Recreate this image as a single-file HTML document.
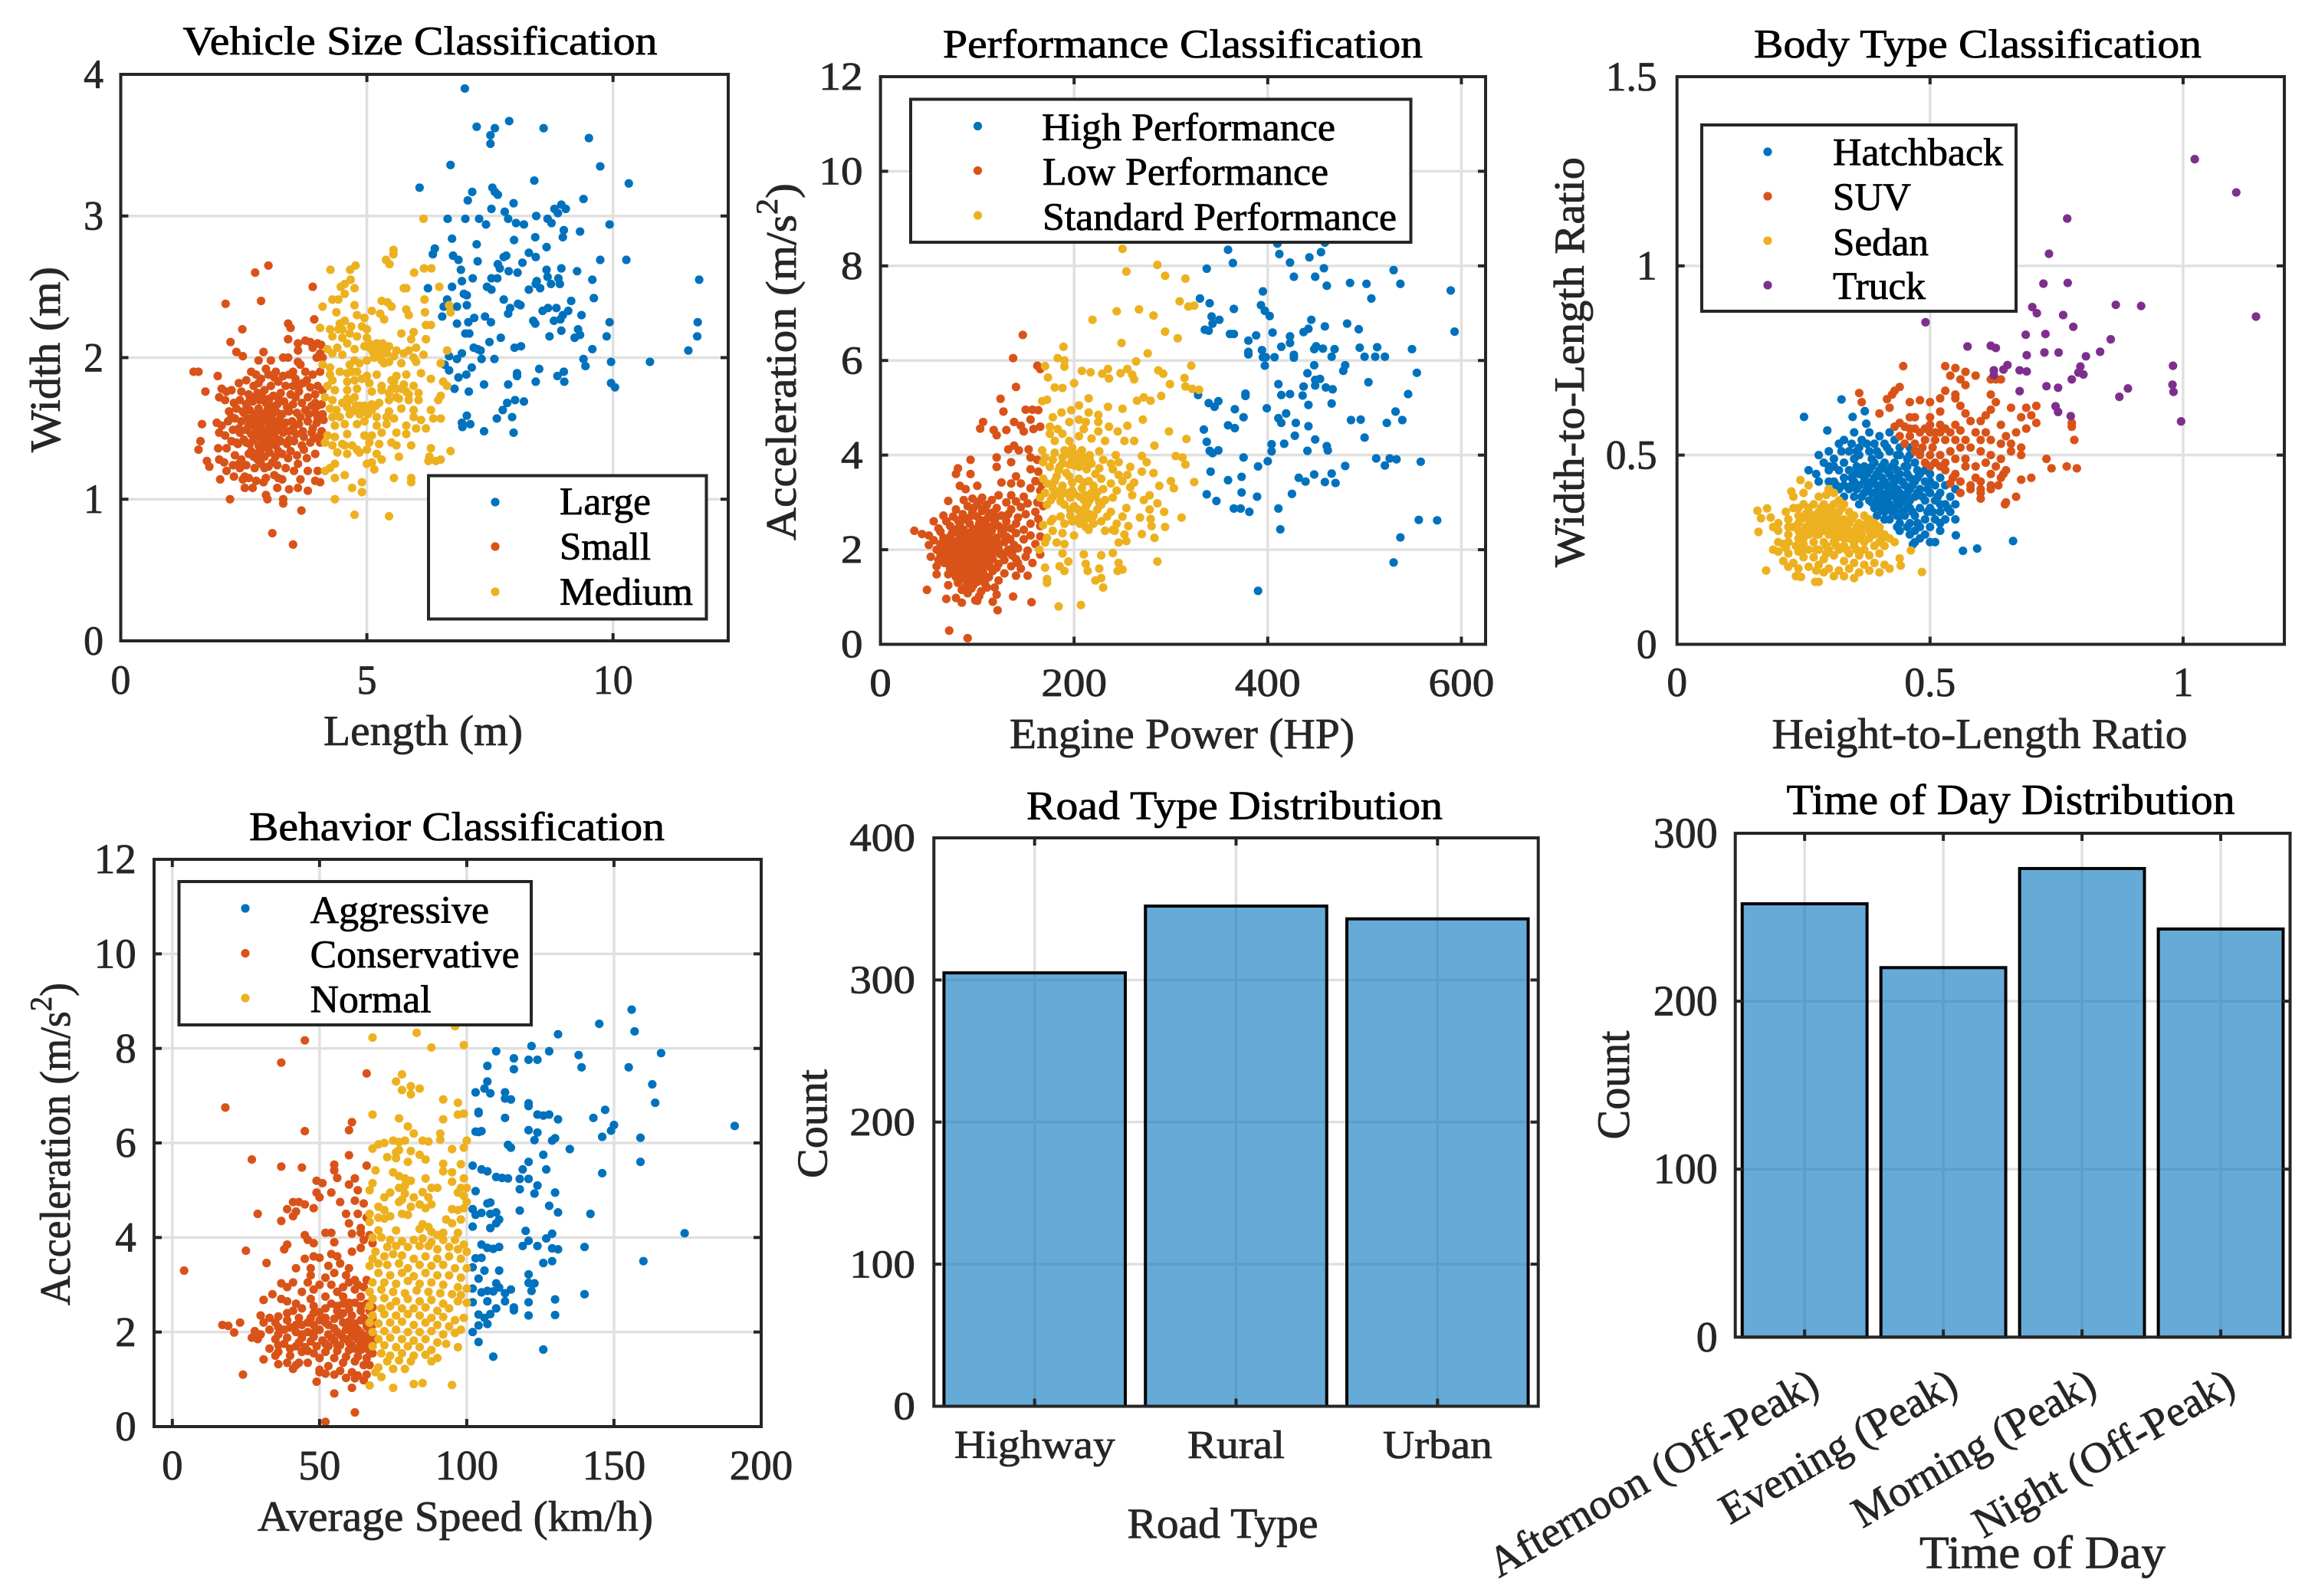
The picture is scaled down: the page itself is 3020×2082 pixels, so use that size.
<!DOCTYPE html>
<html lang="en">
<head>
<meta charset="utf-8">
<title>Vehicle classification charts</title>
<style>
html,body{margin:0;padding:0;background:#fff;}
svg{display:block;font-family:"Liberation Serif","Times New Roman",serif;}
text{stroke:#262626;stroke-width:.8px;}
.t{font-size:53px;fill:#000;stroke:#000;text-anchor:middle;}
.l{font-size:56px;fill:#262626;text-anchor:middle;}
.g{font-size:51px;fill:#000;stroke:#000;}
.b{fill:#fff;stroke:#262626;stroke-width:4;}
</style>
</head>
<body>
<svg id="chart" xmlns="http://www.w3.org/2000/svg" width="3020" height="2082" viewBox="0 0 3020 2082">
<rect width="3020" height="2082" fill="#fff"/>
<g id="plot1"></g>
<g id="plot2"></g>
<g id="plot3"></g>
<g id="plot4"></g>
<g id="plot5"></g>
<g id="plot6"></g>

<text class="t" x="548" y="71" textLength="619" lengthAdjust="spacingAndGlyphs">Vehicle Size Classification</text>
<text class="l" x="552" y="972" textLength="260" lengthAdjust="spacingAndGlyphs">Length (m)</text>
<text class="l" transform="translate(78,469) rotate(-90)" textLength="242" lengthAdjust="spacingAndGlyphs">Width (m)</text>
<g>
<rect class="b" x="559" y="620.5" width="362.5" height="187"/>
<circle cx="646" cy="655" r="5.6" fill="#0072BD"/><circle cx="646" cy="713" r="5.6" fill="#D95319"/><circle cx="646" cy="772" r="5.6" fill="#EDB120"/>
<text class="g" x="730" y="671" textLength="119" lengthAdjust="spacingAndGlyphs">Large</text>
<text class="g" x="730" y="730" textLength="119" lengthAdjust="spacingAndGlyphs">Small</text>
<text class="g" x="730" y="789" textLength="174" lengthAdjust="spacingAndGlyphs">Medium</text>
</g>

<text class="t" x="1543" y="75" textLength="626" lengthAdjust="spacingAndGlyphs">Performance Classification</text>
<text class="l" x="1542" y="976" textLength="450" lengthAdjust="spacingAndGlyphs">Engine Power (HP)</text>
<text class="l" transform="translate(1038,472) rotate(-90)" textLength="466" lengthAdjust="spacingAndGlyphs">Acceleration (m/s<tspan dy="-24" font-size="40">2</tspan><tspan dy="24">)</tspan></text>
<g>
<rect class="b" x="1188" y="129.5" width="652.5" height="186.5"/>
<circle cx="1275.5" cy="164.5" r="5.6" fill="#0072BD"/><circle cx="1275.5" cy="222.6" r="5.6" fill="#D95319"/><circle cx="1275.5" cy="281" r="5.6" fill="#EDB120"/>
<text class="g" x="1359" y="183" textLength="383" lengthAdjust="spacingAndGlyphs">High Performance</text>
<text class="g" x="1360" y="241" textLength="373" lengthAdjust="spacingAndGlyphs">Low Performance</text>
<text class="g" x="1360" y="300" textLength="462" lengthAdjust="spacingAndGlyphs">Standard Performance</text>
</g>

<text class="t" x="2580" y="75" textLength="584" lengthAdjust="spacingAndGlyphs">Body Type Classification</text>
<text class="l" x="2582.5" y="976" textLength="542" lengthAdjust="spacingAndGlyphs">Height-to-Length Ratio</text>
<text class="l" transform="translate(2066,472.5) rotate(-90)" textLength="535" lengthAdjust="spacingAndGlyphs">Width-to-Length Ratio</text>
<g>
<rect class="b" x="2220" y="163" width="410" height="243"/>
<circle cx="2306" cy="198" r="5.6" fill="#0072BD"/><circle cx="2306" cy="256" r="5.6" fill="#D95319"/><circle cx="2306" cy="314" r="5.6" fill="#EDB120"/><circle cx="2306" cy="372" r="5.6" fill="#7E2F8E"/>
<text class="g" x="2391" y="215.5" textLength="222" lengthAdjust="spacingAndGlyphs">Hatchback</text>
<text class="g" x="2391" y="274" textLength="102" lengthAdjust="spacingAndGlyphs">SUV</text>
<text class="g" x="2391" y="333" textLength="125" lengthAdjust="spacingAndGlyphs">Sedan</text>
<text class="g" x="2391" y="390" textLength="121" lengthAdjust="spacingAndGlyphs">Truck</text>
</g>

<text class="t" x="596" y="1096" textLength="542" lengthAdjust="spacingAndGlyphs">Behavior Classification</text>
<text class="l" x="594" y="1997" textLength="516" lengthAdjust="spacingAndGlyphs">Average Speed (km/h)</text>
<text class="l" transform="translate(91,1492.5) rotate(-90)" textLength="421" lengthAdjust="spacingAndGlyphs">Acceleration (m/s<tspan dy="-24" font-size="40">2</tspan><tspan dy="24">)</tspan></text>
<g>
<rect class="b" x="233.5" y="1150" width="459.5" height="187"/>
<circle cx="320" cy="1185" r="5.6" fill="#0072BD"/><circle cx="320" cy="1243.6" r="5.6" fill="#D95319"/><circle cx="320" cy="1302" r="5.6" fill="#EDB120"/>
<text class="g" x="404.6" y="1204" textLength="233.5" lengthAdjust="spacingAndGlyphs">Aggressive</text>
<text class="g" x="404.6" y="1262" textLength="273" lengthAdjust="spacingAndGlyphs">Conservative</text>
<text class="g" x="404.6" y="1320.5" textLength="158" lengthAdjust="spacingAndGlyphs">Normal</text>
</g>

<text class="t" x="1610.5" y="1068.7" textLength="543" lengthAdjust="spacingAndGlyphs">Road Type Distribution</text>
<text class="l" x="1595" y="2006" textLength="249" lengthAdjust="spacingAndGlyphs">Road Type</text>
<text class="l" transform="translate(1078.5,1466) rotate(-90)" textLength="142" lengthAdjust="spacingAndGlyphs">Count</text>

<text class="t" x="2623" y="1062" textLength="585" lengthAdjust="spacingAndGlyphs" style="font-size:56px">Time of Day Distribution</text>
<text class="l" x="2664.5" y="2045.7" textLength="321" lengthAdjust="spacingAndGlyphs" style="font-size:60px">Time of Day</text>
<text class="l" transform="translate(2125,1415.5) rotate(-90)" textLength="142" lengthAdjust="spacingAndGlyphs" style="font-size:60px">Count</text>
</svg>

<script>
/* ---------- Vehicle Size Classification: [length, width] ---------- */
const sizeLarge=[[6.99,3.9],[7.23,3.63],[7.6,3.62],[7.51,3.57],[7.51,3.51],[7.89,3.67],[8.59,3.62],[9.51,3.55],[6.7,3.36],[9.74,3.35],[6.07,3.2],[7.14,3.17],[7.55,3.2],[7.6,3.17],[7.66,3.15],[7.05,3.11],[8.4,3.25],[10.32,3.23],[9.4,3.12],[7.98,3.09],[7.53,3.05],[7.8,3.03],[8.95,3.08],[8.81,3.05],[9.04,3.05],[8.88,3.02],[6.64,2.98],[7,2.98],[7.28,2.98],[7.87,2.98],[8.03,2.95],[8.44,3],[8.67,2.98],[8.75,2.95],[7.42,2.94],[8.19,2.94],[9.93,2.94],[9,2.9],[9.33,2.89],[6.73,2.84],[7.99,2.83],[8.42,2.85],[8.98,2.85],[7.23,2.8],[8.65,2.78],[6.38,2.77],[6.34,2.73],[7.25,2.68],[6.75,2.72],[6.86,2.69],[7.78,2.71],[7.83,2.72],[8.29,2.74],[8.43,2.71],[8.16,2.67],[7.66,2.66],[9.74,2.69],[10.27,2.69],[6.91,2.62],[7.7,2.63],[7.88,2.61],[8.06,2.6],[8.65,2.62],[8.95,2.63],[9.27,2.61],[11.75,2.55],[7.15,2.56],[7.53,2.56],[7.65,2.56],[9.58,2.55],[8.89,2.56],[8.45,2.54],[8.67,2.57],[6.93,2.54],[6.73,2.5],[6.24,2.49],[7.44,2.5],[7.53,2.48],[8.29,2.48],[8.52,2.49],[8.74,2.52],[8.92,2.52],[8.43,2.52],[6.97,2.45],[7.03,2.44],[7.78,2.41],[9.61,2.42],[9.15,2.4],[6.63,2.41],[8.07,2.38],[8.12,2.37],[6.56,2.36],[6.83,2.36],[7.03,2.37],[7.91,2.35],[8.57,2.33],[8.68,2.35],[8.85,2.35],[9.09,2.33],[7.87,2.31],[8.98,2.3],[9.36,2.3],[8.93,2.27],[6.53,2.29],[6.83,2.24],[7.06,2.25],[7.18,2.28],[7.4,2.29],[7.52,2.25],[8.38,2.26],[8.42,2.24],[8.8,2.26],[9.93,2.25],[11.72,2.25],[9.29,2.2],[8.95,2.19],[9.33,2.16],[7,2.17],[7.08,2.17],[8.71,2.15],[7.72,2.14],[9.22,2.14],[9.87,2.15],[11.71,2.15],[7.49,2.11],[8.13,2.08],[8,2.07],[7.17,2.07],[7.25,2.06],[7.31,2.05],[9.58,2.06],[11.53,2.05],[6.93,2.03],[6.67,2.01],[6.83,1.99],[7.33,1.99],[7.59,1.99],[9.4,1.99],[9.96,1.97],[10.75,1.97],[6.58,1.95],[7.13,1.93],[8.5,1.92],[9.44,1.94],[6.67,1.91],[9,1.9],[8.05,1.89],[8.87,1.87],[7.02,1.88],[8.05,1.87],[6.86,1.86],[9.01,1.83],[8.43,1.83],[9.96,1.82],[10.04,1.79],[7.38,1.81],[7.87,1.81],[6.78,1.78],[7.07,1.76],[8.01,1.7],[8.19,1.69],[7.85,1.68],[7.76,1.63],[7.03,1.59],[7.64,1.57],[7.95,1.58],[6.93,1.54],[7.1,1.53],[6.94,1.51],[7.38,1.48],[7.98,1.47]];
const sizeSmall=[[3,2.65],[2.73,2.6],[3.9,2.5],[2.85,2.4],[2.13,2.38],[3.93,2.27],[3.4,2.24],[3.45,2.21],[2.47,2.2],[2.23,2.11],[3.4,2.13],[3.6,2.1],[3.75,2.12],[3.85,2.11],[4,2.1],[4.07,2.09],[3.6,2.05],[3.9,2.07],[4.05,2.03],[3.98,2],[4.1,2],[2.35,2.04],[2.48,2.01],[2.9,2.04],[2.8,1.98],[3.05,1.98],[3.3,2],[3.4,2],[3.6,1.97],[3.65,1.95],[1.48,1.9],[1.58,1.9],[1.97,1.87],[2.65,1.9],[2.75,1.88],[2.95,1.92],[3,1.88],[3.15,1.9],[3.3,1.87],[3.42,1.88],[3.5,1.9],[3.75,1.9],[3.9,1.88],[4.05,1.9],[2.4,1.82],[2.55,1.84],[2.7,1.8],[2.85,1.85],[3.05,1.8],[3.2,1.83],[3.35,1.8],[3.55,1.85],[3.7,1.82],[3.85,1.79],[4,1.8],[4.1,1.77],[1.72,1.76],[2.05,1.78],[2.15,1.76],[2.25,1.77],[2.45,1.76],[2.6,1.74],[2.78,1.75],[2.92,1.77],[3.1,1.73],[3.25,1.75],[3.45,1.74],[3.62,1.76],[3.8,1.72],[3.95,1.74],[2,1.72],[2.12,1.7],[2.3,1.68],[2.42,1.7],[2.55,1.67],[2.68,1.69],[2.82,1.7],[2.95,1.68],[3.02,1.71],[3.18,1.67],[3.32,1.69],[3.5,1.67],[3.68,1.68],[3.88,1.66],[4.08,1.67],[2.2,1.62],[2.35,1.64],[2.5,1.61],[2.62,1.63],[2.72,1.6],[2.8,1.64],[2.88,1.6],[2.98,1.63],[3.08,1.6],[3.15,1.62],[3.28,1.6],[3.42,1.62],[3.58,1.61],[3.75,1.63],[3.95,1.61],[4.1,1.6],[1.65,1.53],[1.95,1.54],[2.05,1.52],[2.18,1.55],[2.32,1.57],[2.45,1.55],[2.58,1.57],[2.68,1.54],[2.76,1.56],[2.84,1.53],[2.92,1.56],[3,1.54],[3.06,1.57],[3.14,1.53],[3.22,1.56],[3.35,1.54],[3.48,1.55],[3.62,1.53],[3.8,1.55],[3.98,1.54],[4.12,1.56],[1.62,1.41],[2,1.47],[2.12,1.45],[2.28,1.49],[2.42,1.47],[2.55,1.49],[2.65,1.46],[2.74,1.49],[2.82,1.46],[2.9,1.49],[2.97,1.46],[3.04,1.49],[3.12,1.46],[3.2,1.49],[3.3,1.47],[3.42,1.48],[3.56,1.46],[3.7,1.48],[3.88,1.47],[4.08,1.48],[1.58,1.35],[1.98,1.36],[2.15,1.36],[2.25,1.41],[2.38,1.39],[2.5,1.42],[2.62,1.39],[2.7,1.42],[2.8,1.38],[2.88,1.42],[2.96,1.38],[3.05,1.41],[3.15,1.38],[3.25,1.41],[3.38,1.39],[3.52,1.41],[3.68,1.38],[3.85,1.4],[4.05,1.4],[1.75,1.27],[2,1.28],[2.1,1.26],[2.32,1.31],[2.45,1.28],[2.6,1.32],[2.7,1.3],[2.8,1.33],[2.92,1.3],[3.02,1.33],[3.14,1.3],[3.28,1.32],[3.4,1.29],[3.58,1.31],[3.78,1.29],[3.95,1.32],[1.8,1.23],[2.15,1.2],[2.28,1.24],[2.42,1.22],[2.55,1.24],[2.72,1.22],[2.85,1.25],[3,1.23],[3.18,1.24],[3.35,1.22],[3.52,1.2],[3.8,1.2],[4,1.2],[2.02,1.14],[2.3,1.16],[2.48,1.14],[2.6,1.15],[2.75,1.13],[2.95,1.15],[3.12,1.17],[3.28,1.14],[3.65,1.14],[3.95,1.13],[4.05,1.12],[2.52,1.08],[2.68,1.08],[3.18,1.08],[3.42,1.07],[3.6,1.08],[3.8,1.06],[2.95,1.03],[2.98,1],[3.3,1],[3.3,.97],[2.22,1],[3.67,.92],[3.08,.76],[3.5,.68]];
const sizeSmallCore=[[2.6,1.52],[2.7,1.58],[2.75,1.44],[2.85,1.5],[2.9,1.58],[2.95,1.42],[3,1.5],[3.05,1.6],[3.1,1.44],[3.15,1.52],[3.2,1.42],[3.25,1.6],[3.3,1.52],[2.65,1.34],[2.78,1.28],[2.85,1.35],[2.92,1.22],[3,1.36],[3.08,1.26],[3.2,1.34],[2.55,1.4],[2.62,1.7],[2.72,1.72],[2.88,1.72],[3.05,1.66],[3.22,1.7],[3.38,1.65],[3.42,1.42],[3.5,1.5],[3.55,1.72],[3.65,1.58],[3.72,1.44],[3.82,1.6],[3.9,1.5],[4,1.66],[4.05,1.45],[2.4,1.5],[2.48,1.62],[2.35,1.4],[2.4,1.25],[2.52,1.16],[2.25,1.58],[3.45,1.34],[3.6,1.25],[3.72,1.35],[2.9,1.12],[3.2,1.15],[2.8,1.82],[3.12,1.86],[3.5,1.8],[3.78,1.84],[3.95,1.68],[4,1.58],[3.92,1.43],[3.62,1.8]];
const sizeMedium=[[6.15,2.98],[5.54,2.76],[5.54,2.73],[5.39,2.69],[5.46,2.66],[4.77,2.65],[4.66,2.62],[4.26,2.62],[5.96,2.6],[6.16,2.63],[6.31,2.63],[6.47,2.5],[4.67,2.55],[4.55,2.52],[4.47,2.5],[4.75,2.49],[4.55,2.45],[5.75,2.49],[5.8,2.49],[4.3,2.41],[4.42,2.41],[6.17,2.41],[5.3,2.4],[5.42,2.39],[5.5,2.36],[4.1,2.36],[4.75,2.37],[5.1,2.33],[5.8,2.34],[6.67,2.37],[4.38,2.32],[4.8,2.3],[4.95,2.28],[5.27,2.31],[5.35,2.27],[5.85,2.3],[6.18,2.32],[6.7,2.32],[4.45,2.24],[4.55,2.26],[6.2,2.23],[6.3,2.23],[4.05,2.21],[4.25,2.2],[4.5,2.2],[4.9,2.22],[5,2.2],[5.7,2.17],[5.95,2.18],[4.3,2.15],[4.65,2.17],[4.8,2.15],[5,2.14],[5.9,2.13],[6.2,2.13],[4.4,2.07],[4.2,2.06],[4.6,2.1],[4.75,2.06],[4.95,2.08],[5.05,2.07],[5.2,2.1],[5.3,2.06],[5.45,2.08],[5.6,2.05],[5.85,2.05],[6,2.07],[6.63,2.05],[4.3,2.03],[4.5,2.02],[5.12,2.04],[5.25,2.02],[5.4,2.03],[5.55,2.01],[5.75,2.03],[5.95,2],[6.15,2.02],[4.1,1.95],[4.25,1.93],[4.75,1.98],[4.85,1.96],[5,1.98],[5.35,1.96],[5.45,1.97],[5.7,1.96],[6,1.97],[6.5,1.96],[4.25,1.88],[4.45,1.9],[4.6,1.89],[4.8,1.9],[5,1.87],[5.2,1.88],[5.6,1.87],[5.8,1.88],[6.1,1.89],[6.3,1.85],[4.3,1.84],[4.6,1.83],[4.75,1.84],[5.05,1.82],[5.3,1.8],[5.55,1.83],[5.75,1.81],[5.95,1.8],[6.55,1.83],[6.63,1.8],[4.35,1.77],[4.6,1.77],[4.8,1.78],[5.1,1.76],[5.3,1.77],[5.45,1.75],[5.6,1.78],[5.8,1.76],[6.05,1.75],[6.5,1.73],[4.15,1.72],[4.3,1.7],[4.6,1.71],[4.75,1.72],[5.45,1.7],[5.65,1.71],[5.85,1.7],[6.05,1.7],[6.45,1.7],[4.25,1.64],[4.38,1.63],[4.6,1.65],[4.85,1.66],[5,1.65],[5.1,1.67],[5.25,1.68],[5.7,1.64],[5.95,1.63],[6.3,1.63],[4.3,1.58],[4.45,1.58],[4.65,1.6],[4.85,1.6],[5,1.62],[5.2,1.58],[5.4,1.58],[5.55,1.57],[5.95,1.58],[6.1,1.56],[6.35,1.57],[6.5,1.57],[4.35,1.52],[4.55,1.53],[4.8,1.53],[4.95,1.55],[5.2,1.52],[5.4,1.53],[5.8,1.52],[6,1.5],[6.2,1.5],[4.2,1.45],[4.35,1.44],[4.6,1.46],[4.95,1.45],[5.3,1.47],[5.6,1.47],[5.8,1.46],[4.15,1.4],[4.3,1.38],[4.5,1.39],[4.7,1.38],[5.05,1.4],[5.25,1.39],[5.5,1.4],[5.6,1.38],[5.9,1.38],[6.3,1.36],[4.4,1.33],[4.6,1.32],[4.85,1.33],[5,1.35],[5.2,1.32],[5.65,1.3],[6.27,1.3],[6.7,1.34],[4.35,1.25],[4.25,1.22],[5,1.25],[5.1,1.26],[5.3,1.28],[6.25,1.27],[6.4,1.27],[6.5,1.28],[4.15,1.2],[4.55,1.17],[5.15,1.21],[5.9,1.15],[5.55,1.15],[5.9,1.12],[4.35,1.15],[4.9,1.12],[4.7,1.08],[4.9,1.05],[4.35,1],[4.75,.89],[5.45,.88]];
const sizeMediumCore=[[5.05,2.1],[5.15,2.06],[5.22,2.03],[5.32,2.1],[5.4,2.06],[5.15,2],[5.3,1.98],[4.7,1.62],[4.78,1.66],[4.85,1.63],[4.95,1.66],[5.02,1.6],[5.1,1.63],[5.18,1.66],[4.65,1.7],[4.5,1.68],[5.5,1.78],[5.6,1.72],[5.7,1.78],[5.5,1.84],[5.85,1.74],[4.65,1.95],[4.7,1.9],[4.9,1.85],[4.55,1.38],[4.8,1.35],[5.1,1.45],[5.45,1.62],[4.2,1.8],[4.5,2.14],[4.68,2.22],[4.42,2.2]];

/* ---------- Performance Classification: [engine power, acceleration] ---------- */
const perfHigh=[[359,8.34],[412,8.25],[443,8.18],[455,8.29],[459,8.49],[410,8.47],[423,8.07],[364,8.06],[337,7.94],[458,7.95],[530,7.91],[427,7.77],[449,7.77],[461,7.58],[485,7.64],[502,7.62],[537,7.62],[589,7.48],[395,7.46],[330,7.31],[340,7.21],[507,7.31],[393,7.17],[365,7.09],[397,7.05],[402,6.94],[342,6.93],[350,6.86],[343,6.78],[445,6.86],[459,6.72],[482,6.78],[494,6.66],[593,6.61],[335,6.65],[339,6.63],[405,6.59],[361,6.56],[365,6.56],[442,6.67],[437,6.6],[423,6.51],[388,6.53],[380,6.42],[423,6.37],[414,6.29],[450,6.3],[448,6.24],[457,6.25],[469,6.24],[495,6.27],[513,6.28],[549,6.24],[394,6.22],[380,6.18],[380,6.13],[427,6.12],[427,6.06],[395,6.07],[398,6.07],[407,6.07],[466,6.08],[500,6.08],[511,6.08],[521,6.08],[448,5.9],[397,5.89],[480,5.9],[478,5.78],[441,5.73],[554,5.74],[454,5.61],[449,5.59],[411,5.5],[449,5.47],[437,5.45],[504,5.54],[460,5.43],[467,5.39],[328,5.35],[377,5.3],[377,5.25],[414,5.27],[423,5.29],[436,5.26],[545,5.29],[328,5.27],[349,5.14],[339,5.1],[345,5.02],[466,5.09],[442,5.06],[399,4.99],[366,4.97],[532,4.92],[419,4.88],[411,4.78],[414,4.68],[375,4.8],[486,4.74],[496,4.75],[539,4.74],[523,4.68],[429,4.68],[359,4.63],[366,4.57],[442,4.61],[334,4.54],[428,4.41],[500,4.37],[337,4.28],[449,4.33],[417,4.24],[404,4.23],[461,4.19],[404,4.08],[462,4.1],[340,4.09],[349,4.1],[441,4.09],[343,4.04],[375,3.95],[512,3.93],[526,3.93],[533,3.91],[558,3.86],[400,3.87],[390,3.76],[480,3.77],[521,3.78],[341,3.65],[448,3.59],[466,3.61],[373,3.54],[359,3.47],[432,3.52],[439,3.44],[459,3.43],[470,3.41],[373,3.21],[425,3.18],[337,3.17],[389,3.12],[347,3.03],[365,2.87],[372,2.87],[381,2.8],[411,2.87],[413,2.43],[556,2.63],[575,2.62],[537,2.26],[530,1.73],[390,1.13]];
const perfLow=[[147,6.54],[137,6.05],[162,5.89],[165,5.82],[140,5.44],[124,5.19],[127,4.92],[150,4.96],[157,4.96],[163,4.95],[106,4.7],[103,4.56],[117,4.53],[120,4.42],[130,4.53],[138,4.7],[145,4.62],[155,4.75],[148,4.5],[158,4.55],[165,4.6],[132,4.12],[138,4.2],[143,4.1],[153,4.12],[120,3.95],[135,3.85],[155,3.95],[162,3.9],[93,3.9],[120,3.75],[80,3.72],[78,3.6],[93,3.6],[155,3.7],[163,3.65],[140,3.55],[125,3.42],[135,3.4],[145,3.4],[160,3.45],[167,3.38],[82,3.35],[88,3.28],[100,3.35],[155,3.3],[165,3.25],[122,3.15],[135,3.15],[148,3.12],[70,3.03],[86,3.05],[95,3.08],[105,3.1],[115,3.05],[130,3],[140,3.02],[152,2.98],[162,3],[168,2.92],[78,2.85],[90,2.92],[100,2.95],[110,2.95],[120,2.88],[135,2.85],[145,2.9],[160,2.8],[65,2.72],[75,2.7],[85,2.75],[95,2.8],[105,2.82],[115,2.78],[125,2.72],[132,2.75],[142,2.68],[150,2.75],[163,2.65],[55,2.6],[68,2.6],[80,2.62],[90,2.65],[100,2.7],[110,2.65],[118,2.6],[130,2.6],[140,2.55],[155,2.55],[165,2.5],[60,2.45],[72,2.5],[82,2.52],[92,2.55],[102,2.55],[110,2.5],[122,2.5],[135,2.45],[148,2.42],[35,2.4],[43,2.33],[50,2.3],[62,2.38],[76,2.4],[86,2.42],[96,2.44],[106,2.42],[115,2.4],[125,2.38],[140,2.35],[155,2.3],[165,2.28],[55,2.2],[65,2.25],[72,2.28],[82,2.3],[90,2.32],[98,2.32],[105,2.3],[112,2.28],[120,2.25],[130,2.28],[148,2.22],[50,2.1],[62,2.12],[70,2.15],[78,2.18],[86,2.2],[94,2.22],[102,2.2],[110,2.18],[118,2.15],[128,2.16],[138,2.1],[160,2.12],[58,2],[66,2.02],[74,2.05],[82,2.08],[88,2.1],[96,2.1],[104,2.08],[112,2.05],[122,2.02],[132,2],[142,2.03],[152,1.98],[52,1.85],[62,1.9],[70,1.92],[78,1.97],[86,1.98],[92,2],[100,1.98],[108,1.95],[116,1.92],[124,1.9],[136,1.88],[150,1.85],[165,1.9],[60,1.78],[68,1.8],[76,1.85],[84,1.88],[92,1.88],[100,1.85],[108,1.82],[116,1.8],[128,1.78],[140,1.8],[157,1.72],[58,1.65],[70,1.7],[78,1.72],[86,1.75],[94,1.76],[102,1.72],[112,1.68],[122,1.7],[135,1.65],[145,1.6],[58,1.48],[72,1.6],[80,1.58],[88,1.62],[96,1.62],[104,1.58],[116,1.55],[128,1.5],[140,1.45],[152,1.45],[70,1.48],[78,1.42],[86,1.5],[94,1.48],[102,1.45],[112,1.42],[122,1.35],[70,1.25],[80,1.3],[90,1.35],[100,1.32],[108,1.28],[118,1.2],[48,1.15],[84,1.15],[94,1.18],[104,1.12],[120,1.05],[137,1.01],[68,.96],[78,.98],[84,.88],[98,.93],[100,.92],[116,.9],[156,.89],[121,.72],[71,.29],[90,.13]];
const perfLowCore=[[74,2.35],[80,2.45],[88,2.36],[94,2.38],[100,2.42],[108,2.36],[114,2.48],[74,1.75],[80,2.02],[84,2.25],[90,2.15],[96,2.02],[100,2.12],[106,2.02],[114,2.1],[122,2.12],[126,2.32],[70,2.08],[66,1.95],[74,1.95],[82,1.92],[90,1.95],[96,1.92],[104,1.9],[112,1.95],[120,1.98],[128,1.92],[66,1.72],[72,1.62],[80,1.78],[88,1.8],[96,1.82],[104,1.78],[112,1.75],[120,1.62],[74,1.52],[82,1.48],[90,1.55],[98,1.55],[106,1.52],[114,1.62],[78,1.68],[86,1.68],[92,1.7],[100,1.68],[108,1.65],[84,1.38],[92,1.42],[98,1.4],[106,1.38],[88,1.22],[96,1.25],[110,1.2],[90,1.08],[102,1.02],[84,2.62],[94,2.72],[104,2.62],[112,2.72],[96,2.88],[108,2.88],[102,3.02],[120,2.7],[128,2.45],[134,2.22],[136,1.95],[142,1.72]];
const perfStandard=[[250,8.36],[254,7.88],[286,8.02],[294,7.79],[315,7.73],[309,7.25],[318,7.14],[324,7.16],[244,7.04],[267,7.08],[282,6.95],[219,6.86],[294,6.61],[307,6.47],[249,6.37],[276,6.15],[189,6.29],[183,6.05],[190,6],[321,5.89],[170,5.88],[190,5.87],[264,5.98],[255,5.82],[235,5.82],[208,5.78],[217,5.75],[229,5.72],[248,5.73],[260,5.7],[287,5.79],[292,5.72],[314,5.63],[173,5.64],[236,5.62],[262,5.6],[299,5.5],[180,5.43],[188,5.42],[200,5.52],[315,5.45],[322,5.4],[329,5.38],[167,5.14],[172,5.17],[215,5.2],[265,5.15],[272,5.22],[290,5.25],[279,5.15],[205,5.05],[197,4.95],[187,4.9],[178,4.8],[235,5.02],[250,4.98],[215,4.9],[225,4.85],[175,4.6],[183,4.55],[195,4.7],[205,4.75],[212,4.7],[225,4.7],[236,4.6],[255,4.62],[271,4.75],[175,4.45],[188,4.45],[210,4.55],[225,4.5],[245,4.5],[298,4.5],[167,4.1],[180,4.3],[195,4.3],[205,4.4],[218,4.35],[232,4.3],[252,4.3],[262,4.3],[316,4.34],[283,4.2],[170,3.95],[180,4.05],[190,4.1],[198,4.15],[208,4.1],[216,4],[226,4.08],[243,4],[270,3.98],[305,3.98],[312,3.95],[168,3.85],[178,3.9],[188,3.95],[198,3.9],[204,3.85],[210,3.95],[218,3.82],[230,3.9],[246,3.85],[275,3.85],[315,3.8],[168,3.5],[175,3.75],[185,3.75],[195,3.8],[205,3.75],[213,3.7],[222,3.6],[240,3.7],[255,3.58],[270,3.65],[282,3.62],[172,3.4],[182,3.55],[195,3.55],[205,3.5],[215,3.45],[228,3.5],[238,3.4],[250,3.45],[262,3.42],[288,3.35],[300,3.45],[324,3.43],[170,3.2],[178,3.3],[188,3.35],[198,3.25],[208,3.3],[218,3.2],[230,3.28],[244,3.25],[258,3.32],[278,3.15],[303,3.3],[165,3.1],[176,3.05],[186,3.15],[196,3.1],[206,3.12],[216,3.05],[226,3],[240,3.1],[272,3.05],[286,2.98],[172,2.95],[190,2.95],[200,2.92],[212,2.9],[224,2.85],[238,2.8],[254,2.88],[278,2.85],[293,2.8],[178,2.65],[186,2.7],[196,2.72],[206,2.7],[216,2.75],[228,2.6],[250,2.7],[268,2.68],[279,2.65],[311,2.68],[168,2.52],[176,2.6],[190,2.55],[202,2.62],[210,2.58],[220,2.55],[240,2.42],[256,2.5],[280,2.5],[294,2.48],[172,2.25],[178,2.4],[188,2.35],[200,2.3],[215,2.42],[232,2.4],[242,2.4],[252,2.32],[270,2.33],[283,2.25],[170,2.15],[182,2.15],[190,2.12],[246,2.15],[254,2.18],[164,2],[188,1.92],[194,1.75],[210,1.9],[228,1.88],[240,1.93],[185,1.65],[190,1.55],[212,1.7],[246,1.72],[245,1.55],[250,1.58],[170,1.62],[214,1.55],[226,1.6],[228,1.4],[222,1.35],[172,1.38],[172,1.3],[230,1.2],[184,.8],[207,.83],[286,1.75]];
const perfStandardCore=[[196,4],[202,4.02],[206,3.92],[212,3.85],[216,3.92],[200,3.78],[188,3.82],[184,3.68],[192,3.62],[180,3.2],[186,3.25],[192,3.2],[200,3.18],[212,3.15],[222,3.12],[210,3.05],[204,2.85],[208,2.78],[214,2.68],[220,2.72],[198,2.6],[206,2.55],[212,2.48],[218,2.65],[228,2.95],[220,3.35],[232,3.05],[210,3.42],[180,3.45],[198,3.42],[224,3.22],[178,3.12],[186,3.02],[196,2.85],[214,2.98],[234,2.7],[244,2.55],[260,3.15],[246,3.58],[258,3.75],[226,3.72],[238,3.82]];

/* ---------- Body Type Classification: [height/length, width/length] ---------- */
const bodyHatchback=[[.325,.647],[.251,.601],[.371,.616],[.347,.601],[.374,.583],[.297,.565],[.664,.273],[.593,.253],[.565,.247],[.466,.264],[.551,.288],[.33,.54],[.35,.56],[.38,.56],[.4,.55],[.42,.56],[.43,.54],[.32,.53],[.345,.53],[.365,.54],[.39,.53],[.41,.53],[.44,.52],[.46,.52],[.28,.5],[.3,.51],[.325,.51],[.34,.51],[.36,.5],[.38,.51],[.4,.5],[.42,.51],[.44,.5],[.46,.5],[.48,.51],[.29,.48],[.31,.49],[.33,.48],[.35,.49],[.37,.47],[.39,.48],[.41,.48],[.43,.48],[.45,.47],[.47,.48],[.49,.46],[.26,.46],[.275,.45],[.3,.46],[.32,.46],[.34,.46],[.36,.45],[.38,.46],[.4,.46],[.42,.45],[.44,.45],[.46,.44],[.48,.45],[.5,.45],[.52,.44],[.28,.43],[.31,.43],[.33,.44],[.35,.43],[.37,.44],[.39,.44],[.41,.43],[.43,.43],[.45,.42],[.47,.43],[.49,.43],[.51,.42],[.53,.42],[.55,.41],[.3,.41],[.32,.41],[.34,.41],[.36,.42],[.38,.42],[.4,.41],[.42,.41],[.44,.4],[.46,.41],[.48,.41],[.5,.4],[.52,.4],[.54,.39],[.33,.39],[.35,.39],[.37,.4],[.39,.4],[.41,.39],[.43,.39],[.45,.38],[.47,.39],[.49,.38],[.51,.38],[.53,.37],[.55,.37],[.36,.37],[.38,.38],[.4,.38],[.42,.37],[.44,.37],[.46,.36],[.48,.36],[.5,.36],[.52,.35],[.54,.35],[.39,.36],[.41,.35],[.43,.35],[.45,.34],[.47,.34],[.49,.33],[.51,.33],[.53,.33],[.55,.33],[.42,.33],[.44,.32],[.46,.32],[.48,.31],[.5,.31],[.52,.3],[.44,.3],[.46,.29],[.48,.28],[.49,.29],[.5,.27],[.51,.27],[.47,.27],[.36,.52],[.385,.49],[.405,.47],[.425,.44],[.355,.47],[.395,.42],[.415,.4],[.435,.41],[.4,.37],[.415,.38],[.43,.36],[.385,.4],[.37,.43],[.35,.45],[.44,.34],[.46,.38],[.5,.43],[.52,.37]];
const bodyHatchbackCore=[[.345,.44],[.355,.41],[.365,.46],[.375,.41],[.375,.45],[.385,.43],[.385,.47],[.395,.45],[.395,.39],[.405,.44],[.405,.42],[.405,.395],[.415,.46],[.415,.42],[.425,.42],[.425,.395],[.425,.47],[.435,.44],[.435,.38],[.445,.43],[.445,.39],[.455,.4],[.455,.45],[.465,.42],[.475,.4],[.475,.46],[.485,.39],[.385,.375],[.395,.37],[.405,.355],[.415,.365],[.425,.35],[.435,.34],[.445,.35],[.455,.36],[.465,.35],[.365,.39],[.345,.42],[.33,.42],[.315,.42],[.355,.51],[.375,.53],[.395,.51],[.415,.52],[.435,.5],[.455,.49],[.435,.46],[.455,.47],[.475,.44],[.495,.41],[.515,.39],[.495,.35],[.475,.32],[.455,.31],[.435,.31],[.395,.34],[.41,.33],[.505,.35],[.535,.36],[.52,.32],[.47,.3],[.3,.47],[.3,.43],[.31,.47]];
const bodySUV=[[.447,.735],[.36,.664],[.365,.64],[.415,.648],[.425,.66],[.43,.67],[.44,.68],[.53,.735],[.55,.73],[.57,.72],[.59,.71],[.54,.71],[.56,.7],[.62,.7],[.63,.7],[.64,.7],[.57,.685],[.53,.67],[.55,.66],[.52,.65],[.5,.64],[.48,.645],[.46,.64],[.42,.625],[.4,.61],[.46,.6],[.47,.6],[.44,.585],[.55,.65],[.56,.63],[.62,.66],[.63,.64],[.62,.62],[.66,.625],[.69,.625],[.71,.63],[.7,.605],[.68,.6],[.61,.605],[.57,.61],[.52,.615],[.5,.6],[.43,.575],[.45,.575],[.47,.57],[.5,.58],[.52,.58],[.55,.58],[.58,.59],[.6,.59],[.64,.58],[.71,.585],[.69,.57],[.67,.56],[.65,.55],[.61,.56],[.59,.56],[.56,.565],[.54,.56],[.52,.56],[.5,.56],[.48,.56],[.46,.55],[.44,.55],[.45,.53],[.47,.53],[.49,.54],[.51,.54],[.53,.54],[.55,.54],[.57,.54],[.6,.54],[.62,.54],[.64,.53],[.66,.53],[.68,.52],[.78,.585],[.78,.575],[.785,.54],[.79,.465],[.73,.49],[.74,.465],[.77,.47],[.7,.44],[.68,.435],[.67,.39],[.65,.375],[.648,.37],[.6,.385],[.48,.5],[.5,.5],[.52,.5],[.54,.51],[.56,.52],[.58,.52],[.6,.51],[.62,.5],[.64,.49],[.66,.51],[.68,.5],[.49,.48],[.51,.48],[.53,.48],[.55,.49],[.57,.49],[.59,.47],[.61,.48],[.63,.47],[.65,.46],[.53,.46],[.55,.45],[.57,.47],[.59,.44],[.6,.43],[.62,.45],[.64,.44],[.645,.45],[.56,.43],[.58,.42],[.6,.41],[.62,.41],[.635,.42],[.56,.4],[.58,.41],[.6,.4],[.62,.42],[.545,.44],[.54,.425],[.52,.47],[.5,.47],[.47,.51],[.485,.52],[.505,.52],[.46,.57],[.49,.57],[.51,.56],[.53,.57]];
const bodySedan=[[.159,.353],[.178,.359],[.161,.297],[.166,.333],[.176,.195],[.273,.165],[.484,.191],[.462,.248],[.44,.227],[.442,.208],[.244,.434],[.226,.404],[.23,.39],[.26,.42],[.25,.4],[.28,.39],[.3,.41],[.295,.395],[.31,.4],[.32,.38],[.31,.37],[.33,.37],[.29,.37],[.27,.37],[.25,.37],[.23,.36],[.215,.35],[.22,.33],[.24,.34],[.26,.35],[.28,.35],[.3,.35],[.32,.35],[.34,.35],[.35,.34],[.37,.34],[.38,.33],[.39,.32],[.4,.31],[.36,.32],[.34,.32],[.32,.33],[.3,.33],[.28,.33],[.26,.33],[.24,.32],[.22,.31],[.2,.32],[.185,.335],[.19,.31],[.2,.3],[.22,.29],[.24,.3],[.26,.31],[.28,.31],[.3,.31],[.32,.31],[.34,.3],[.36,.3],[.38,.3],[.4,.3],[.41,.29],[.42,.28],[.43,.27],[.2,.27],[.21,.265],[.215,.255],[.19,.25],[.2,.245],[.22,.27],[.24,.28],[.26,.29],[.28,.29],[.3,.29],[.32,.29],[.34,.28],[.36,.28],[.38,.28],[.4,.27],[.41,.26],[.235,.26],[.25,.265],[.27,.27],[.29,.27],[.31,.27],[.33,.26],[.35,.26],[.37,.25],[.39,.26],[.22,.24],[.24,.245],[.26,.25],[.28,.25],[.3,.25],[.32,.25],[.34,.24],[.36,.235],[.38,.235],[.4,.24],[.21,.22],[.23,.215],[.25,.23],[.27,.23],[.29,.225],[.31,.235],[.33,.22],[.35,.215],[.37,.21],[.39,.215],[.41,.21],[.22,.205],[.24,.2],[.26,.205],[.28,.21],[.3,.2],[.32,.195],[.34,.2],[.36,.19],[.38,.195],[.4,.19],[.42,.2],[.235,.18],[.245,.178],[.275,.195],[.29,.19],[.31,.18],[.33,.18],[.35,.175],[.28,.165],[.3,.36],[.31,.34],[.33,.33],[.29,.3],[.27,.3],[.25,.28],[.33,.3],[.35,.29],[.37,.31],[.39,.29],[.26,.36],[.24,.36],[.27,.34],[.29,.32],[.31,.3],[.33,.28],[.35,.27],[.37,.27],[.29,.34],[.31,.32],[.27,.32],[.25,.3],[.23,.31]];
const bodySedanCore=[[.265,.32],[.275,.31],[.285,.3],[.295,.31],[.305,.29],[.315,.28],[.325,.3],[.335,.31],[.345,.33],[.355,.31],[.365,.29],[.375,.32],[.385,.31],[.395,.3],[.405,.28],[.345,.29],[.325,.32],[.305,.33],[.285,.32],[.265,.34],[.275,.29],[.255,.31],[.245,.33],[.255,.345],[.285,.36],[.305,.36],[.325,.36],[.345,.34],[.315,.26],[.295,.26],[.275,.25],[.295,.24],[.355,.25],[.335,.25],[.25,.25]];
const bodyTruck=[[1.023,1.282],[1.105,1.194],[.771,1.125],[.735,1.032],[.724,.953],[.772,.955],[1.144,.866],[.867,.897],[.917,.894],[.491,.851],[.702,.891],[.711,.875],[.763,.87],[.783,.839],[.689,.818],[.728,.82],[.857,.806],[.574,.787],[.62,.789],[.63,.783],[.691,.764],[.726,.771],[.754,.771],[.808,.761],[.836,.773],[.797,.734],[.793,.718],[.803,.713],[.98,.736],[.653,.738],[.645,.726],[.626,.724],[.626,.711],[.677,.724],[.691,.721],[.78,.7],[.73,.682],[.753,.678],[.979,.686],[.891,.676],[.874,.654],[.981,.667],[.677,.669],[.748,.629],[.753,.614],[.778,.603],[.996,.589]];

/* ---------- Behavior Classification: [average speed, acceleration] ---------- */
const behaviorAggressive=[[156,8.82],[145,8.52],[157,8.36],[131,8.3],[122,8.05],[166,7.9],[110,7.94],[128,7.94],[138,7.86],[116,7.79],[121,7.76],[124,7.76],[107,7.63],[116,7.56],[139,7.6],[155,7.6],[107,7.3],[106,7.15],[163,7.24],[108,7.05],[113,7.07],[103,7.07],[113,6.94],[115,6.92],[164,6.85],[104,6.66],[104,6.63],[113,6.53],[121,6.84],[121,6.78],[124,6.6],[126,6.58],[128,6.6],[131,6.5],[143,6.53],[147,6.7],[150,6.38],[149,6.26],[191,6.36],[103,6.24],[104,6.23],[105,6.25],[121,6.27],[124,6.22],[146,6.13],[159,6.11],[123,6.06],[129,6.05],[130,6.1],[114,5.96],[115,5.9],[135,5.87],[126,5.75],[159,5.6],[121,5.6],[102,5.52],[105,5.44],[107,5.4],[119,5.44],[127,5.44],[146,5.36],[110,5.28],[112,5.26],[114,5.25],[118,5.24],[121,5.24],[124,5.1],[118,5.02],[103,4.98],[123,4.93],[130,4.95],[107,4.72],[108,4.74],[102,4.6],[128,4.67],[118,4.57],[103,4.48],[105,4.52],[108,4.5],[110,4.53],[131,4.53],[142,4.5],[111,4.38],[110,4.3],[108,4.2],[102,4.23],[120,4.14],[129,4.08],[174,4.09],[127,3.98],[121,3.93],[119,3.82],[124,3.82],[105,3.85],[107,3.78],[109,3.76],[111,3.8],[129,3.77],[131,3.75],[140,3.8],[103,3.56],[105,3.57],[129,3.5],[126,3.46],[160,3.5],[102,3.37],[106,3.3],[111,3.3],[104,3.13],[121,3.22],[121,3.04],[123,3.03],[102,2.92],[105,2.84],[107,2.87],[109,2.86],[110,3.03],[111,2.94],[113,2.82],[115,2.9],[122,2.87],[140,2.8],[130,2.69],[102,2.63],[107,2.65],[113,2.65],[110,2.5],[116,2.52],[116,2.46],[121,2.63],[121,2.35],[130,2.36],[104,2.37],[106,2.3],[108,2.38],[107,2.17],[104,2.14],[102,2],[104,1.79],[109,1.48],[126,1.63]];
const behaviorConservative=[[45,8.17],[37,7.7],[18,6.75],[66,7.47],[61,6.44],[60,6.27],[45,6.25],[27,5.65],[60,5.74],[37,5.5],[44,5.48],[55,5.54],[55,5.42],[66,5.52],[56,5.26],[62,5.25],[49,5.2],[51,5.15],[60,5.12],[63,5],[49,4.95],[54,4.95],[50,4.85],[41,4.75],[43,4.75],[45,4.7],[57,4.75],[62,4.78],[65,4.72],[39,4.6],[42,4.55],[48,4.62],[29,4.5],[41,4.45],[59,4.5],[63,4.5],[37,4.35],[60,4.3],[66,4.42],[64,4.2],[52,4.1],[54,4.1],[61,4.08],[64,4.1],[67,4.05],[45,4.05],[46,3.95],[48,3.88],[39,3.85],[38,3.75],[25,3.72],[55,3.9],[65,3.95],[68,3.88],[64,3.78],[61,3.7],[54,3.65],[45,3.55],[48,3.6],[50,3.57],[56,3.6],[32,3.46],[42,3.35],[47,3.35],[53,3.4],[57,3.45],[60,3.35],[4,3.3],[47,3.2],[52,3.15],[55,3.25],[59,3.2],[66,3.1],[46,3.05],[41,3.05],[37,3.03],[39,2.95],[50,3],[54,3],[60,3.05],[63,3],[65,2.95],[34,2.8],[37,2.7],[44,2.85],[48,2.9],[56,2.85],[62,2.9],[67,2.85],[31,2.68],[39,2.65],[42,2.6],[47,2.7],[52,2.75],[58,2.75],[64,2.75],[68,2.7],[44,2.5],[48,2.55],[54,2.6],[58,2.6],[62,2.62],[66,2.6],[30,2.35],[33,2.3],[36,2.33],[39,2.4],[41,2.45],[50,2.42],[56,2.45],[60,2.48],[64,2.45],[67,2.45],[31,2.2],[35,2.2],[39,2.25],[43,2.3],[47,2.3],[52,2.3],[57,2.35],[61,2.35],[65,2.3],[68,2.3],[23,2.2],[17,2.15],[19,2.13],[28,2.02],[33,2.05],[36,2.1],[40,2.1],[44,2.15],[48,2.15],[53,2.15],[58,2.2],[62,2.18],[66,2.2],[21,1.99],[30,1.95],[36,1.95],[42,2],[46,2],[50,2.05],[55,2.08],[59,2.05],[63,2.05],[67,2.05],[27,1.88],[29,1.85],[35,1.85],[39,1.88],[44,1.88],[48,1.9],[53,1.95],[57,1.95],[61,1.95],[65,1.92],[68,1.95],[36,1.72],[38,1.75],[43,1.78],[47,1.8],[51,1.82],[55,1.82],[59,1.85],[63,1.85],[67,1.82],[33,1.65],[36,1.58],[40,1.65],[45,1.68],[49,1.7],[53,1.7],[57,1.72],[61,1.72],[65,1.72],[68,1.7],[31,1.42],[35,1.5],[40,1.5],[44,1.58],[48,1.55],[52,1.58],[56,1.6],[60,1.62],[64,1.62],[67,1.6],[36,1.32],[39,1.35],[42,1.3],[46,1.35],[50,1.45],[55,1.45],[59,1.48],[63,1.48],[66,1.45],[41,1.22],[43,1.35],[50,1.2],[53,1.28],[58,1.35],[62,1.38],[65,1.3],[67,1.3],[50,1.15],[52,1.12],[55,1.1],[57,1.18],[61,1.15],[63,1.08],[66,1.1],[24,1.1],[49,.95],[59,1.03],[62,1.02],[65,.98],[55,.7],[61,.82],[62,.3],[52,.1]];
const behaviorConservativeCore=[[55,2.28],[58,2.4],[60,2.22],[62,2.08],[64,2.25],[66,2.12],[56,2],[58,1.88],[60,2.1],[62,1.9],[64,1.98],[66,1.88],[54,1.88],[56,1.72],[60,1.78],[62,1.65],[64,1.75],[66,1.65],[52,2.2],[50,2.25],[46,2.2],[42,2.15],[38,2.05],[44,1.95],[48,1.98],[52,1.75],[46,1.6],[42,1.7],[56,2.55],[60,2.62],[64,2.55],[52,2.5],[48,2.4],[58,2.95],[62,3.1],[68,2.15],[68,2.52],[68,1.78],[68,1.55]];
const behaviorNormal=[[68,8.23],[83,8.33],[96,8.47],[88,8.02],[99,8.07],[76,7.3],[78,7.45],[81,7.2],[84,7.15],[78,7.12],[81,7.03],[92,6.92],[97,6.85],[99,6.62],[97,6.6],[68,6.6],[77,6.52],[92,6.5],[80,6.35],[82,6.2],[91,6.2],[91,6.07],[75,6.05],[72,6],[70,5.97],[77,6.02],[85,6.05],[79,6.05],[87,6.03],[100,6.05],[68,5.88],[77,5.85],[81,5.83],[76,5.8],[95,5.87],[99,5.9],[84,5.75],[86,5.65],[73,5.7],[76,5.68],[80,5.6],[92,5.56],[98,5.55],[69,5.42],[75,5.38],[77,5.3],[92,5.4],[95,5.38],[79,5.25],[81,5.2],[86,5.25],[95,5.18],[99,5.25],[68,5.15],[79,5.1],[77,5.05],[88,5.05],[90,5.05],[98,5.05],[100,5.05],[67,5],[74,4.95],[79,4.93],[85,4.96],[97,4.95],[72,4.85],[78,4.8],[82,4.85],[87,4.85],[99,4.88],[100,4.75],[70,4.65],[72,4.58],[77,4.75],[81,4.65],[84,4.7],[88,4.7],[95,4.6],[97,4.58],[99,4.62],[67,4.5],[70,4.42],[74,4.45],[78,4.5],[80,4.48],[86,4.62],[98,4.38],[72,4.4],[67,4.33],[85,4.28],[87,4.22],[93,4.38],[95,4.3],[70,4.15],[76,4.15],[84,4.18],[88,4.12],[90,4.05],[92,4.1],[97,4.1],[68,4],[71,4],[74,3.95],[78,3.92],[82,3.95],[85,3.98],[88,3.9],[92,3.95],[96,3.95],[99,3.85],[69,3.7],[73,3.8],[76,3.82],[80,3.8],[84,3.82],[87,3.82],[90,3.75],[94,3.8],[97,3.75],[100,3.7],[68,3.55],[72,3.6],[75,3.65],[78,3.62],[82,3.55],[86,3.6],[90,3.55],[94,3.6],[98,3.55],[67,3.4],[70,3.45],[73,3.42],[77,3.45],[80,3.35],[84,3.42],[88,3.4],[92,3.42],[96,3.35],[100,3.35],[70,3.25],[74,3.2],[78,3.25],[82,3.18],[86,3.25],[90,3.2],[94,3.2],[98,3.15],[68,3.05],[72,3.05],[76,3.02],[80,3.08],[84,3.02],[88,3.05],[92,3],[97,2.95],[100,2.92],[67,2.85],[71,2.9],[75,2.85],[79,2.82],[83,2.88],[87,2.85],[91,2.82],[95,2.8],[98,2.78],[68,2.7],[72,2.72],[76,2.65],[80,2.7],[84,2.65],[88,2.68],[92,2.6],[97,2.65],[100,2.62],[67,2.55],[71,2.5],[74,2.55],[78,2.5],[82,2.5],[86,2.52],[90,2.45],[94,2.5],[68,2.35],[72,2.38],[76,2.35],[80,2.38],[84,2.35],[88,2.3],[92,2.32],[96,2.25],[99,2.3],[67,2.2],[70,2.18],[74,2.2],[78,2.22],[82,2.15],[86,2.2],[90,2.15],[94,2.12],[98,2.05],[68,2],[72,2.02],[76,2.05],[80,2],[84,2],[88,2.02],[92,1.95],[96,1.98],[70,1.85],[74,1.88],[78,1.85],[82,1.82],[86,1.85],[90,1.78],[93,1.75],[97,1.68],[68,1.7],[72,1.72],[76,1.68],[80,1.7],[84,1.68],[88,1.62],[71,1.55],[74,1.5],[78,1.55],[82,1.5],[86,1.52],[90,1.45],[73,1.38],[77,1.4],[81,1.38],[88,1.38],[70,1.25],[75,1.22],[79,1.22],[69,1.15],[67,.87],[71,1.05],[75,.82],[82,.9],[85,.92],[95,.88]];

/* ---------- Distribution bars ---------- */
const roadCategories=['Highway','Rural','Urban'];
const roadCounts=[305,352,343];
const timeCategories=['Afternoon (Off-Peak)','Evening (Peak)','Morning (Peak)','Night (Off-Peak)'];
const timeCounts=[258,220,279,243];

/* ---------- Tick labels ---------- */
const sizeXTicks=[0,5,10];
const sizeYTicks=[0,1,2,3,4];
const perfXTicks=[0,200,400,600];
const perfYTicks=[0,2,4,6,8,10,12];
const bodyXTicks=[0,0.5,1];
const bodyYTicks=[0,0.5,1,1.5];
const behaviorXTicks=[0,50,100,150,200];
const behaviorYTicks=[0,2,4,6,8,10,12];
const roadYTicks=[0,100,200,300,400];
const timeYTicks=[0,100,200,300];

const NS='http://www.w3.org/2000/svg';
const BLUE='#0072BD',ORANGE='#D95319',YELLOW='#EDB120',PURPLE='#7E2F8E';

function make(parent,tag,attrs){
  const el=document.createElementNS(NS,tag);
  for(const k in attrs)el.setAttribute(k,attrs[k]);
  parent.appendChild(el);
  return el;
}
function linear(d0,d1,r0,r1){return v=>r0+(v-d0)*(r1-r0)/(d1-d0);}

function drawGrid(g,box,xs,ys,xTicks,yTicks){
  xTicks.forEach(t=>{
    const px=xs(t);
    if(px<=box.l+1||px>=box.r-1)return;
    const line=make(g,'line',{x1:px,x2:px,y1:box.t,y2:box.b,stroke:'#e0e0e0','stroke-width':3.5});
    
    
  });
  yTicks.forEach(t=>{
    const py=ys(t);
    if(py<=box.t+1||py>=box.b-1)return;
    const line=make(g,'line',{x1:box.l,x2:box.r,y1:py,y2:py,stroke:'#e0e0e0','stroke-width':3.5});
    
    
  });
}
function drawFrame(g,box,xs,ys,xTicks,yTicks,opt){
  const frame=make(g,'rect',{x:box.l,y:box.t,width:box.r-box.l,height:box.b-box.t,fill:'none',stroke:'#262626','stroke-width':4});
  
  
  const len=10;
  xTicks.forEach(t=>{
    const px=xs(t);
    if(px>box.l+1&&px<box.r-1){
      const a=make(g,'line',{x1:px,x2:px,y1:box.b,y2:box.b-len,stroke:'#262626','stroke-width':4});
      
      
      const b=make(g,'line',{x1:px,x2:px,y1:box.t,y2:box.t+len,stroke:'#262626','stroke-width':4});
      
      
    }
    if(opt.xLabels){
      const tx=make(g,'text',{transform:'translate('+px+','+opt.xBase+') scale('+opt.sx+',1)','text-anchor':'middle','font-size':opt.fs,fill:'#262626'});
      tx.textContent=String(t);
      
      
    }
  });
  yTicks.forEach(t=>{
    const py=ys(t);
    if(py>box.t+1&&py<box.b-1){
      const a=make(g,'line',{x1:box.l,x2:box.l+len,y1:py,y2:py,stroke:'#262626','stroke-width':4});
      
      
      const b=make(g,'line',{x1:box.r,x2:box.r-len,y1:py,y2:py,stroke:'#262626','stroke-width':4});
      
      
    }
    const ty=make(g,'text',{transform:'translate('+opt.yRight+','+(py+opt.fs*0.33)+') scale('+opt.sx+',1)','text-anchor':'end','font-size':opt.fs,fill:'#262626'});
    ty.textContent=String(t);
    
    
  });
}
function scatterPanel(id,box,xd,yd,xTicks,yTicks,series,opt){
  const g=document.getElementById(id);
  const xs=linear(xd[0],xd[1],box.l,box.r);
  const ys=linear(yd[0],yd[1],box.b,box.t);
  drawGrid(g,box,xs,ys,xTicks,yTicks);
  series.forEach(s=>{
    const sg=make(g,'g',{fill:s.color});
    
    
    s.points.forEach(p=>{
      const c=make(sg,'circle',{cx:xs(p[0]),cy:ys(p[1]),r:5.6});
      
      
    });
  });
  drawFrame(g,box,xs,ys,xTicks,yTicks,Object.assign({xLabels:true},opt));
}
function barPanel(id,box,cats,counts,yd,yTicks,opt){
  const g=document.getElementById(id);
  const xs=linear(0.5,cats.length+0.5,box.l,box.r);
  const ys=linear(yd[0],yd[1],box.b,box.t);
  const centers=cats.map((c,i)=>i+1);
  drawGrid(g,box,xs,ys,centers,yTicks);
  const w=xs(1.45)-xs(0.55);
  counts.forEach((v,i)=>{
    const r=make(g,'rect',{x:xs(i+1)-w/2,y:ys(v),width:w,height:ys(0)-ys(v),fill:BLUE,'fill-opacity':0.6,stroke:'#000','stroke-width':4});
    
    
  });
  drawFrame(g,box,xs,ys,centers,yTicks,Object.assign({xLabels:false},opt));
  cats.forEach((c,i)=>{
    let t;
    if(opt.rot){
      t=make(g,'text',{transform:'translate('+(xs(i+1)+opt.rotDx)+','+opt.rotY+') rotate('+opt.rot+') scale('+opt.rotSx+',1)','text-anchor':'end','font-size':opt.fs,fill:'#262626'});
    }else{
      t=make(g,'text',{transform:'translate('+xs(i+1)+','+opt.xBase+') scale('+opt.catSx+',1)','text-anchor':'middle','font-size':opt.fs,fill:'#262626'});
    }
    t.textContent=c;
    
    
  });
}

scatterPanel('plot1',{l:157.5,r:950,t:97,b:836},[0,12.34],[0,4],sizeXTicks,sizeYTicks,
  [{name:'series-large',color:BLUE,points:sizeLarge},{name:'series-small',color:ORANGE,points:sizeSmall.concat(sizeSmallCore)},{name:'series-medium',color:YELLOW,points:sizeMedium.concat(sizeMediumCore)}],
  {fs:54,sx:.96,xBase:905,yRight:135});
scatterPanel('plot2',{l:1148.6,r:1938,t:100,b:840.5},[0,625],[0,12],perfXTicks,perfYTicks,
  [{name:'series-high-performance',color:BLUE,points:perfHigh},{name:'series-low-performance',color:ORANGE,points:perfLow.concat(perfLowCore)},{name:'series-standard-performance',color:YELLOW,points:perfStandard.concat(perfStandardCore)}],
  {fs:52,sx:1.1,xBase:908,yRight:1125.6});
scatterPanel('plot3',{l:2187.7,r:2980,t:100,b:840.5},[0,1.2],[0,1.5],bodyXTicks,bodyYTicks,
  [{name:'series-hatchback',color:BLUE,points:bodyHatchback.concat(bodyHatchbackCore)},{name:'series-suv',color:ORANGE,points:bodySUV},{name:'series-sedan',color:YELLOW,points:bodySedan.concat(bodySedanCore)},{name:'series-truck',color:PURPLE,points:bodyTruck}],
  {fs:54,sx:.99,xBase:908,yRight:2161.6});
scatterPanel('plot4',{l:201,r:993,t:1121,b:1861},[-6.2,200],[0,12],behaviorXTicks,behaviorYTicks,
  [{name:'series-aggressive',color:BLUE,points:behaviorAggressive},{name:'series-conservative',color:ORANGE,points:behaviorConservative.concat(behaviorConservativeCore)},{name:'series-normal',color:YELLOW,points:behaviorNormal}],
  {fs:55,sx:1,xBase:1930,yRight:177.8});
barPanel('plot5',{l:1218.3,r:2006.7,t:1093,b:1834.5},roadCategories,roadCounts,[0,400],roadYTicks,
  {fs:52,sx:1.1,catSx:1.1,xBase:1902,yRight:1194});
barPanel('plot6',{l:2263.7,r:2987.5,t:1087,b:1744.3},timeCategories,timeCounts,[0,300],timeYTicks,
  {fs:56,sx:1,yRight:2240.7,rot:-30,rotSx:1,rotDx:22,rotY:1816});
</script>
</body>
</html>
